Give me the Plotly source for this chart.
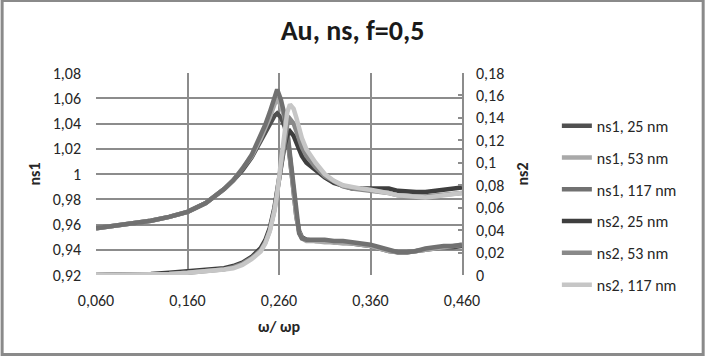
import plotly.graph_objects as go

# ---- data ----
omega = [0.06, 0.08, 0.10, 0.12, 0.14, 0.16, 0.18, 0.20, 0.21, 0.22, 0.23, 0.24, 0.245, 0.25,
         0.255, 0.258, 0.262, 0.266, 0.269, 0.272, 0.276, 0.279, 0.282, 0.285, 0.29, 0.30, 0.31,
         0.32, 0.33, 0.34, 0.35, 0.36, 0.37, 0.38, 0.39, 0.40, 0.41, 0.42, 0.43, 0.44, 0.45, 0.46]

ns1_25 = [0.957, 0.959, 0.961, 0.963, 0.966, 0.970, 0.977, 0.988, 0.995, 1.003, 1.013, 1.026, 1.033, 1.040,
          1.046, 1.048, 1.045, 1.038, 1.029, 1.012, 0.985, 0.966, 0.955, 0.950, 0.948, 0.947, 0.947,
          0.946, 0.946, 0.945, 0.944, 0.943, 0.941, 0.939, 0.938, 0.938, 0.939, 0.940, 0.941, 0.942, 0.942, 0.943]
ns1_53 = [0.957, 0.959, 0.961, 0.963, 0.966, 0.970, 0.977, 0.988, 0.995, 1.004, 1.014, 1.028, 1.036, 1.045,
          1.055, 1.060, 1.054, 1.045, 1.033, 1.013, 0.985, 0.966, 0.954, 0.949, 0.947, 0.947, 0.946,
          0.946, 0.945, 0.945, 0.944, 0.943, 0.941, 0.939, 0.938, 0.938, 0.939, 0.940, 0.941, 0.942, 0.943, 0.944]
ns1_117 = [0.957, 0.959, 0.961, 0.963, 0.966, 0.970, 0.977, 0.988, 0.995, 1.004, 1.015, 1.030, 1.039, 1.049,
           1.060, 1.067, 1.059, 1.047, 1.034, 1.014, 0.985, 0.965, 0.953, 0.949, 0.948, 0.948, 0.948,
           0.947, 0.947, 0.946, 0.945, 0.944, 0.942, 0.940, 0.938, 0.938, 0.939, 0.941, 0.942, 0.943, 0.943, 0.944]

ns2_25 = [0.000, 0.000, 0.001, 0.001, 0.002, 0.003, 0.004, 0.006, 0.008, 0.011, 0.016, 0.024, 0.031, 0.042,
          0.060, 0.076, 0.098, 0.115, 0.125, 0.128, 0.124, 0.118, 0.112, 0.106, 0.100, 0.093, 0.087,
          0.082, 0.079, 0.077, 0.077, 0.077, 0.077, 0.077, 0.075, 0.074, 0.074, 0.074, 0.075, 0.076, 0.077, 0.078]
ns2_53 = [0.000, 0.000, 0.000, 0.001, 0.001, 0.002, 0.003, 0.005, 0.007, 0.010, 0.015, 0.022, 0.029, 0.040,
          0.058, 0.074, 0.099, 0.120, 0.134, 0.139, 0.135, 0.128, 0.121, 0.114, 0.106, 0.096, 0.088,
          0.083, 0.079, 0.077, 0.076, 0.076, 0.075, 0.073, 0.071, 0.070, 0.070, 0.070, 0.071, 0.071, 0.072, 0.073]
ns2_117 = [0.000, 0.000, 0.000, 0.001, 0.001, 0.002, 0.003, 0.005, 0.006, 0.009, 0.014, 0.021, 0.028, 0.039,
           0.057, 0.072, 0.100, 0.128, 0.145, 0.152, 0.148, 0.140, 0.131, 0.122, 0.112, 0.100, 0.090,
           0.084, 0.080, 0.078, 0.077, 0.076, 0.075, 0.073, 0.071, 0.070, 0.069, 0.069, 0.070, 0.071, 0.072, 0.073]

x_ticks = [0.06, 0.16, 0.26, 0.36, 0.46]
x_ticktext = ["0,060", "0,160", "0,260", "0,360", "0,460"]
y1_ticks = [0.92, 0.94, 0.96, 0.98, 1.00, 1.02, 1.04, 1.06, 1.08]
y1_ticktext = ["0,92", "0,94", "0,96", "0,98", "1", "1,02", "1,04", "1,06", "1,08"]
y2_ticks = [0, 0.02, 0.04, 0.06, 0.08, 0.10, 0.12, 0.14, 0.16, 0.18]
y2_ticktext = ["0", "0,02", "0,04", "0,06", "0,08", "0,1", "0,12", "0,14", "0,16", "0,18"]

series = [
    ("ns1, 25 nm", ns1_25, "y", "#505050"),
    ("ns1, 53 nm", ns1_53, "y", "#a9a9a9"),
    ("ns1, 117 nm", ns1_117, "y", "#717171"),
    ("ns2, 25 nm", ns2_25, "y2", "#3e3e3e"),
    ("ns2, 53 nm", ns2_53, "y2", "#898989"),
    ("ns2, 117 nm", ns2_117, "y2", "#c6c6c6"),
]

FONT = "Carlito, Lato, 'Liberation Sans', sans-serif"
TXT = "#262626"

fig = go.Figure()
for name, vals, yax, col in series:
    fig.add_trace(go.Scatter(x=omega, y=vals, yaxis=yax, name=name, mode="lines",
                             legendgroup=name,
                             line=dict(color=col, width=4.5)))

W, H = 705, 357
L, R, T, B = 95.5, 243, 73.3, 82
pw, ph = W - L - R, H - T - B

def px2paper_x(px):
    return (px - L) / pw

def px2paper_y(py):
    return (H - B - py) / ph

fig.update_layout(
    width=W, height=H,
    margin=dict(l=L, r=R, t=T, b=B, pad=0, autoexpand=False),
    paper_bgcolor="white", plot_bgcolor="white",
    font=dict(family=FONT, size=16, color=TXT),
    title=dict(text="<b>Au, ns, f=0,5</b>", x=0.5, xref="container", xanchor="center",
               y=1 - 30 / H, yref="container", yanchor="middle",
               font=dict(size=28, color="#1a1a1a")),
    xaxis=dict(range=[0.06, 0.46], tickvals=x_ticks, ticktext=x_ticktext, automargin=False,
               showgrid=True, gridcolor="#8c8c8c", gridwidth=1.5, zeroline=False,
               showline=False, ticks="", ticklabelstandoff=14,
               title=dict(text="<b>ω/ ωp</b>", standoff=11, font=dict(size=16))),
    yaxis=dict(range=[0.92, 1.08], tickvals=y1_ticks, ticktext=y1_ticktext, automargin=False,
               showgrid=True, gridcolor="#8c8c8c", gridwidth=1.5, zeroline=False,
               showline=False, ticks="", ticklabelstandoff=14,
               title=dict(text="<b>ns1</b>", standoff=8, font=dict(size=16))),
    yaxis2=dict(range=[0, 0.18], tickvals=y2_ticks, ticktext=y2_ticktext, automargin=False,
                overlaying="y", side="right", showgrid=False, zeroline=False,
                showline=True, linecolor="#8c8c8c", linewidth=1.5,
                ticks="inside", ticklen=4, tickcolor="#8c8c8c", tickwidth=1.5,
                ticklabelstandoff=9,
                title=dict(text="<b>ns2</b>", standoff=14, font=dict(size=16))),
    legend=dict(x=px2paper_x(557), y=px2paper_y(109), xanchor="left", yanchor="top",
                bgcolor="rgba(0,0,0,0)", tracegroupgap=8, maxheight=330,
                font=dict(size=16, color=TXT)),
    showlegend=True,
)

# outer chart frame
fig.add_shape(type="rect", xref="paper", yref="paper",
              x0=px2paper_x(1.5), x1=px2paper_x(703.5),
              y0=px2paper_y(354.5), y1=px2paper_y(1),
              line=dict(color="#8a8a8a", width=3), fillcolor="rgba(0,0,0,0)", layer="below")

fig.write_html("out.html", config={"displayModeBar": False},
               post_script="document.body.style.margin='0';document.body.style.overflow='hidden';")
